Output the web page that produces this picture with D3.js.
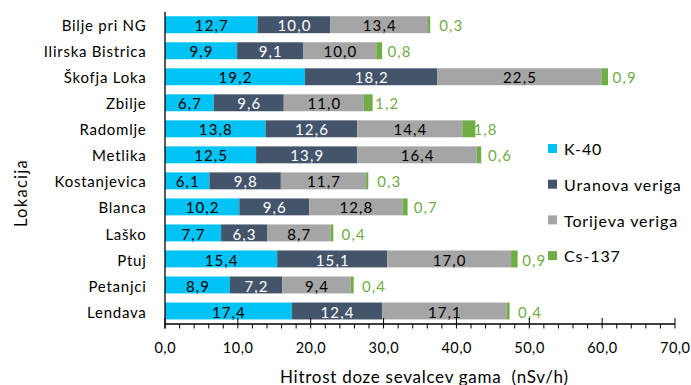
<!DOCTYPE html>
<html>
<head>
<meta charset="utf-8">
<script src="https://cdn.jsdelivr.net/npm/d3@7"></script>
<style>
  html, body { margin: 0; padding: 0; background: #fff; }
  svg { display: block; font-family: Lato, "Open Sans", sans-serif; }
</style>
</head>
<body>
<svg id="chart" width="691" height="385"></svg>
<script>
// Locations, top to bottom
const locations = ["Bilje pri NG", "Ilirska Bistrica", "Škofja Loka", "Zbilje", "Radomlje", "Metlika",
  "Kostanjevica", "Blanca", "Laško", "Ptuj", "Petanjci", "Lendava"];

// Dose-rate contributions (nSv/h) per source
const k40      = [12.7, 9.9, 19.2, 6.7, 13.8, 12.5, 6.1, 10.2, 7.7, 15.4, 8.9, 17.4];
const uranova  = [10.0, 9.1, 18.2, 9.6, 12.6, 13.9, 9.8, 9.6, 6.3, 15.1, 7.2, 12.4];
const torijeva = [13.4, 10.0, 22.5, 11.0, 14.4, 16.4, 11.7, 12.8, 8.7, 17.0, 9.4, 17.1];
const cs137    = [0.3, 0.8, 0.9, 1.2, 1.8, 0.6, 0.3, 0.7, 0.4, 0.9, 0.4, 0.4];

const seriesNames = ["K-40", "Uranova veriga", "Torijeva veriga", "Cs-137"];
const seriesColors = ["#00C3F5", "#44546A", "#A5A5A5", "#70AD47"];
const labelColors = ["#000000", "#FFFFFF", "#000000", "#70AD47"];

const xTicks = [0, 10, 20, 30, 40, 50, 60, 70];
const xTitle = "Hitrost doze sevalcev gama  (nSv/h)";
const yTitle = "Lokacija";

const fmt = v => v.toFixed(1).replace(".", ",");

const svg = d3.select("#chart");
const plot = { left: 165, right: 675, top: 11.7, bottom: 324 };

const x = d3.scaleLinear().domain([0, 70]).range([plot.left, plot.right]);
const y = d3.scaleBand().domain(locations).range([plot.top, plot.bottom])
  .paddingInner(0.35).paddingOuter(0.175);

const rows = locations.map((loc, i) => {
  const r = { loc };
  r[seriesNames[0]] = k40[i];
  r[seriesNames[1]] = uranova[i];
  r[seriesNames[2]] = torijeva[i];
  r[seriesNames[3]] = cs137[i];
  return r;
});
const stacked = d3.stack().keys(seriesNames)(rows);

// Stacked bars
const layers = svg.append("g").selectAll("g").data(stacked).join("g")
  .attr("fill", (d, i) => seriesColors[i]);
layers.selectAll("rect").data(d => d).join("rect")
  .attr("x", d => x(d[0]))
  .attr("y", d => y(d.data.loc))
  .attr("width", d => x(d[1]) - x(d[0]))
  .attr("height", y.bandwidth());

// Segment value labels (letter-spacing adds trailing space, so centre is nudged)
const valLS = 1.1;
stacked.forEach((layer, si) => {
  svg.append("g").selectAll("text").data(layer).join("text")
    .attr("x", d => (si === 3 ? x(d[0]) + 22.7 : (x(d[0]) + x(d[1])) / 2) + valLS / 2)
    .attr("y", d => y(d.data.loc) + y.bandwidth() / 2)
    .attr("dy", "0.44em")
    .attr("text-anchor", "middle")
    .attr("font-size", 15)
    .attr("letter-spacing", valLS)
    .attr("fill", labelColors[si])
    .text(d => fmt(d[1] - d[0]));
});

// X axis with major and minor ticks
const axisG = svg.append("g");
axisG.append("line")
  .attr("x1", plot.left).attr("x2", plot.right)
  .attr("y1", plot.bottom).attr("y2", plot.bottom)
  .attr("stroke", "#000").attr("stroke-width", 1.3);
const minor = d3.range(0, 70.001, 2).filter(v => v % 10 !== 0);
axisG.selectAll(".minor").data(minor).join("line")
  .attr("x1", d => x(d)).attr("x2", d => x(d))
  .attr("y1", plot.bottom).attr("y2", plot.bottom + 4.5)
  .attr("stroke", "#000").attr("stroke-width", 1);
axisG.selectAll(".major").data(xTicks).join("line")
  .attr("x1", d => x(d)).attr("x2", d => x(d))
  .attr("y1", plot.bottom - 6).attr("y2", plot.bottom + 4.5)
  .attr("stroke", "#000").attr("stroke-width", 1);
axisG.selectAll("text").data(xTicks).join("text")
  .attr("x", d => x(d) + 0.25).attr("y", 352.5)
  .attr("text-anchor", "middle")
  .attr("font-size", 14.5)
  .attr("letter-spacing", 0.5)
  .attr("fill", "#000")
  .text(d => fmt(d));

// Y axis line and category labels
svg.append("line")
  .attr("x1", plot.left).attr("x2", plot.left)
  .attr("y1", plot.top).attr("y2", plot.bottom + 4.5)
  .attr("stroke", "#000").attr("stroke-width", 1.3);
svg.append("g").selectAll("text").data(locations).join("text")
  .attr("x", 146.5)
  .attr("y", d => y(d) + y.bandwidth() / 2)
  .attr("dy", "0.44em")
  .attr("text-anchor", "end")
  .attr("font-size", 15)
  .attr("letter-spacing", 0.75)
  .attr("fill", "#000")
  .text(d => d);

// Axis titles
svg.append("text")
  .attr("x", 280).attr("y", 382.5)
  .attr("font-size", 17)
  .attr("textLength", 288)
  .attr("lengthAdjust", "spacing")
  .style("white-space", "pre")
  .attr("fill", "#000")
  .text(xTitle);
svg.append("text")
  .attr("transform", "translate(26.5,193) rotate(-90)")
  .attr("text-anchor", "middle")
  .attr("font-size", 16.5)
  .attr("letter-spacing", 1.3)
  .attr("fill", "#000")
  .text(yTitle);

// Legend
const legend = svg.append("g").selectAll("g").data(seriesNames).join("g")
  .attr("transform", (d, i) => `translate(548,${144 + i * 35.7})`);
legend.append("rect")
  .attr("width", 9).attr("height", 9)
  .attr("fill", (d, i) => seriesColors[i]);
legend.append("text")
  .attr("x", 16).attr("y", 4.5).attr("dy", "0.42em")
  .attr("font-size", 16)
  .attr("letter-spacing", 0.9)
  .attr("fill", "#000")
  .text(d => d);
</script>
</body>
</html>
